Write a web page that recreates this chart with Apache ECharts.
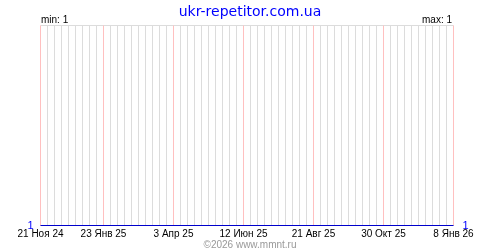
<!DOCTYPE html>
<html>
<head>
<meta charset="utf-8">
<script src="https://cdn.jsdelivr.net/npm/echarts@6/dist/echarts.min.js"></script>
<style>html,body{margin:0;padding:0;background:#fff}#c{width:500px;height:250px}</style>
</head>
<body>
<div id="c"></div>
<script>
const titleText = 'ukr-repetitor.com.ua';
const footerText = '©2026 www.mmnt.ru';
const startDate = '2024-11-21';
const endDate = '2026-01-08';
const tickDates = ['2024-11-21','2025-01-23','2025-04-03','2025-06-12','2025-08-21','2025-10-30','2026-01-08'];
const tickLabels = ['21 Ноя 24','23 Янв 25','3 Апр 25','12 Июн 25','21 Авг 25','30 Окт 25','8 Янв 26'];
const seriesDates = ['2024-11-21','2026-01-08'];
const seriesValues = [1, 1];
const minValue = 1;
const maxValue = 1;

const DAY = 86400000;
const WEEK = 7;
const t0 = Date.parse(startDate + 'T00:00:00Z');
const dayOf = d => Math.round((Date.parse(d + 'T00:00:00Z') - t0) / DAY);
const totalDays = dayOf(endDate);
const tickDays = tickDates.map(dayOf);
const labelMap = {};
tickDays.forEach((d, i) => { labelMap[d] = tickLabels[i]; });
// one colour per weekly split line: pink where a labelled date falls, grey otherwise
const nLines = Math.floor(totalDays / WEEK) + 1;
const splitColors = [];
for (let k = 0; k < nLines; k++) splitColors.push(labelMap[k * WEEK] ? '#ffc0c0' : '#dcdcdc');

const chart = echarts.init(document.getElementById('c'), null, {renderer: 'canvas'});
chart.setOption({
  animation: false,
  backgroundColor: '#ffffff',
  title: [
    {text: titleText, left: 'center', top: 0,
     textStyle: {color: '#0000ff', fontFamily: 'DejaVu Sans', fontSize: 14, fontWeight: 'normal'}},
    {text: 'min: ' + minValue, left: 36, top: 10,
     textStyle: {color: '#000', fontFamily: 'Liberation Sans', fontSize: 10, fontWeight: 'normal'}},
    {text: 'max: ' + maxValue, right: 43, top: 10,
     textStyle: {color: '#000', fontFamily: 'Liberation Sans', fontSize: 10, fontWeight: 'normal'}},
    {text: footerText, left: 'center', top: 235,
     textStyle: {color: '#999999', fontFamily: 'Liberation Sans', fontSize: 10, fontWeight: 'normal'}}
  ],
  grid: {left: 40.5, right: 46.5, top: 25.5, bottom: 24.5, containLabel: false},
  xAxis: {
    type: 'value', min: 0, max: totalDays, interval: WEEK,
    axisLine: {show: false}, axisTick: {show: false},
    splitLine: {show: true, showMinLine: true, showMaxLine: true,
      lineStyle: {color: splitColors, width: 1}},
    axisLabel: {
      show: true, margin: 4, color: '#000', fontFamily: 'Liberation Sans', fontSize: 10,
      showMinLabel: true, showMaxLabel: true, hideOverlap: false,
      formatter: v => labelMap[Math.round(v)] || ''
    }
  },
  yAxis: [
    {type: 'value', min: minValue, max: minValue + 1, interval: 1, position: 'left',
     axisLine: {show: false}, axisTick: {show: false},
     splitLine: {show: true, lineStyle: {color: '#dcdcdc'}},
     axisLabel: {margin: 7, color: '#0000ff', fontFamily: 'Liberation Sans', fontSize: 11,
       formatter: v => v === minValue ? String(minValue) : ''}},
    {type: 'value', min: minValue, max: minValue + 1, interval: 1, position: 'right',
     axisLine: {show: false}, axisTick: {show: false}, splitLine: {show: false},
     axisLabel: {margin: 9, color: '#0000ff', fontFamily: 'Liberation Sans', fontSize: 11,
       formatter: v => v === maxValue ? String(maxValue) : ''}}
  ],
  series: [{
    type: 'line',
    data: seriesDates.map((d, i) => [dayOf(d), seriesValues[i]]),
    showSymbol: false, symbol: 'none',
    lineStyle: {color: '#0000cc', width: 1},
    z: 5
  }]
});
</script>
</body>
</html>
